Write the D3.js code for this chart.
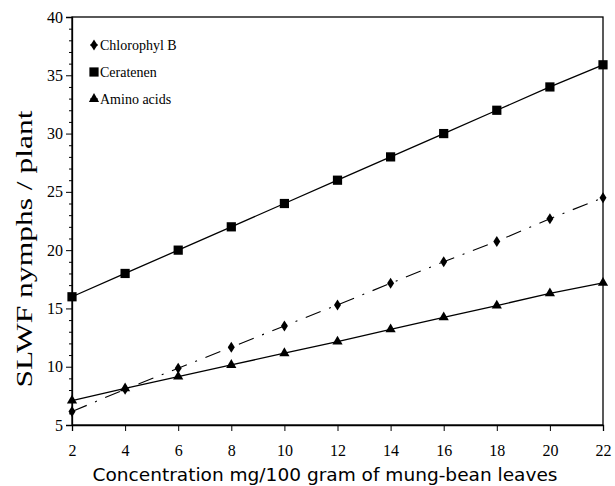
<!DOCTYPE html>
<html><head><meta charset="utf-8">
<script src="https://cdn.jsdelivr.net/npm/d3@7"></script>
<style>body{margin:0;background:#fff}svg{display:block}</style>
</head><body>
<svg id="c" width="615" height="486"></svg>
<script>
const xValues = [2, 4, 6, 8, 10, 12, 14, 16, 18, 20, 22];
const chlorophylB = [6.15, 8.07, 9.87, 11.67, 13.5, 15.3, 17.16, 19.0, 20.75, 22.7, 24.5];
const ceratenen = [16, 18, 20, 22, 24, 26, 28, 30, 32, 34, 35.9];
const aminoAcids = [7.1, 8.15, 9.15, 10.15, 11.16, 12.15, 13.2, 14.24, 15.24, 16.3, 17.2];
const seriesNames = ["Chlorophyl B", "Ceratenen", "Amino acids"];
const yTicks = [5, 10, 15, 20, 25, 30, 35, 40];
const xTitle = "Concentration mg/100 gram of mung-bean leaves";
const yTitle = "SLWF nymphs / plant";

const svg = d3.select("#c");
const L = 72, R = 603, T = 17, B = 425;
const x = d3.scaleLinear().domain([2, 22]).range([L, R]);
const y = d3.scaleLinear().domain([5, 40]).range([B, T]);

// frame
svg.append("rect").attr("x", L).attr("y", T).attr("width", R - L).attr("height", B - T)
  .attr("fill", "none").attr("stroke", "#000").attr("stroke-width", 1.3);

// y axis
const yAxis = svg.append("g").attr("transform", `translate(${L},0)`)
  .call(d3.axisLeft(y).tickValues(yTicks).tickSize(6).tickPadding(3));
yAxis.select(".domain").attr("stroke-width", 1.3);
yAxis.selectAll("text").attr("font-family", "Liberation Serif").attr("font-size", 16).attr("fill", "#000");
const yMinor = d3.range(5, 41, 1).filter(v => !yTicks.includes(v));
svg.append("g").attr("transform", `translate(${L},0)`)
  .call(d3.axisLeft(y).tickValues(yMinor).tickSize(3).tickFormat(""))
  .select(".domain").remove();

// x axis
const xAxis = svg.append("g").attr("transform", `translate(0,${B})`)
  .call(d3.axisBottom(x).tickValues(xValues).tickSize(6).tickPadding(14));
xAxis.select(".domain").attr("stroke-width", 1.3);
xAxis.selectAll("text").attr("font-family", "Liberation Serif").attr("font-size", 16).attr("fill", "#000");

// titles
svg.append("text").attr("x", 325).attr("y", 481).attr("text-anchor", "middle")
  .attr("font-family", "DejaVu Sans").attr("font-size", 18)
  .attr("textLength", 465).attr("lengthAdjust", "spacingAndGlyphs").text(xTitle);
svg.append("text").attr("transform", "translate(32,249) rotate(-90)").attr("text-anchor", "middle")
  .attr("font-family", "Liberation Serif").attr("font-size", 23)
  .attr("textLength", 277).attr("lengthAdjust", "spacingAndGlyphs").text(yTitle);

const line = d3.line().x((d, i) => x(xValues[i])).y(d => y(d));

// lines
svg.append("path").datum(ceratenen).attr("d", line).attr("fill", "none").attr("stroke", "#000").attr("stroke-width", 1.3);
svg.append("path").datum(aminoAcids).attr("d", line).attr("fill", "none").attr("stroke", "#000").attr("stroke-width", 1.3);
svg.append("path").datum(chlorophylB).attr("d", line).attr("fill", "none").attr("stroke", "#000").attr("stroke-width", 1.1)
  .attr("stroke-dasharray", "16,9,2,9");

const sym = {
  "Ceratenen": d3.symbol().type(d3.symbolSquare).size(85),
  "Amino acids": d3.symbol().type(d3.symbolTriangle).size(45)
};
const diamondPath = () => "M0,-5.5L3.5,0L0,5.5L-3.5,0Z";

function marks(data, name) {
  svg.append("g").selectAll("path").data(data).join("path")
    .attr("transform", (d, i) => `translate(${x(xValues[i])},${y(d)})`)
    .attr("d", name === "Chlorophyl B" ? diamondPath() : sym[name]())
    .attr("fill", "#000");
}
marks(ceratenen, "Ceratenen");
marks(aminoAcids, "Amino acids");
marks(chlorophylB, "Chlorophyl B");

// legend
const legY = [45, 72, 99];
seriesNames.forEach((n, i) => {
  const g = svg.append("g").attr("transform", `translate(94,${legY[i]})`);
  g.append("line").attr("x1", -4).attr("x2", 4).attr("y1", 0).attr("y2", 0).attr("stroke", "#000");
  g.append("path").attr("d", n === "Chlorophyl B" ? diamondPath() : sym[n]()).attr("fill", "#000");
  g.append("text").attr("x", 6).attr("y", 5).attr("font-family", "Liberation Serif").attr("font-size", 14).text(n);
});
</script>
</body></html>
